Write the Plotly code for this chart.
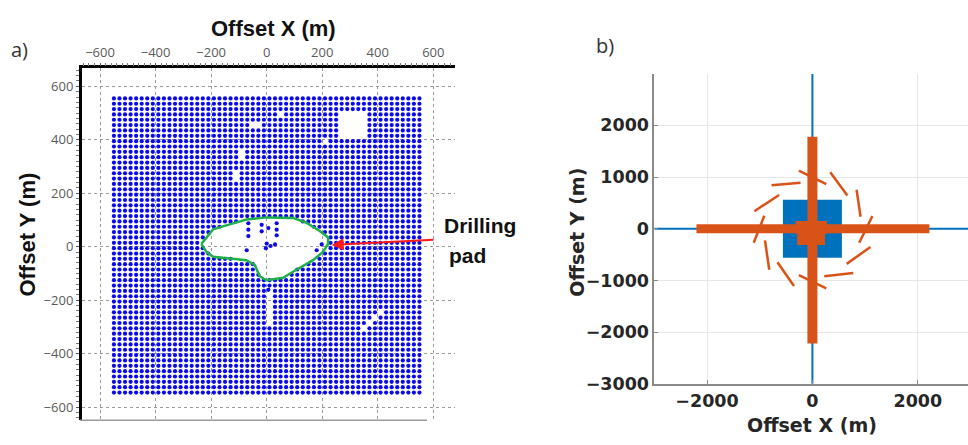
import plotly.graph_objects as go

# ---------------- Panel a data ----------------
# regular receiver grid (m)
GRID_X = [-550, -530, -510, -490, -470, -450, -430, -410, -390, -370, -350, -330, -310, -290,
          -270, -250, -230, -210, -190, -170, -150, -130, -110, -90, -70, -50, -30, -10,
          10, 30, 50, 70, 90, 110, 130, 150, 170, 190, 210, 230, 250, 270, 290, 310, 330,
          350, 370, 390, 410, 430, 450, 470, 490, 510, 530, 550]
GRID_Y = [-545, -525, -505, -485, -465, -445, -425, -405, -385, -365, -345, -325, -305, -285,
          -265, -245, -225, -205, -185, -165, -145, -125, -105, -85, -65, -45, -25, -5,
          15, 35, 55, 75, 95, 115, 135, 155, 175, 195, 215, 235, 255, 275, 295, 315, 335,
          355, 375, 395, 415, 435, 455, 475, 495, 515, 535, 555]

# drilling pad outline (m)
PAD_X = [-235, -193, -133, -73, -1, 95, 143, 191, 221, 221, 203, 167, 107, 59, -1, -25, -43, -73, -193, -217, -235]
PAD_Y = [11, 65, 84, 102, 110, 108, 90, 59, 35, 11, -19, -50, -86, -116, -125, -110, -68, -50, -37, -19, 11]

# empty areas in the grid: [x0, x1, y0, y1]
GAP_BOXES = [
    [265, 365, 415, 505],
    [40, 60, 490, 500],
    [-95, -85, 320, 370],
    [-115, -105, 250, 290],
    [0, 20, -295, -165],
    [25, 35, -500, -490],
    [345, 355, -310, -300],
    [365, 375, -290, -280],
    [385, 395, -270, -260],
    [405, 415, -250, -240],
    [205, 215, 390, 400],
    [-50, -30, 450, 460],
]

# scattered receivers left inside / near the pad
EXTRA_X = [-66, -66, -66, -18, -18, 6, 36, 36, 36, 30, 14, 0, -3, -72, 180, 198, 6]
EXTRA_Y = [88, 64, 40, 82, 58, 70, 88, 64, 43, 9, 3, 12, -5, -13, -13, 9, -161]

# arrow (m): head and tail
ARROW_HEAD = (234, 7)
ARROW_TAIL = (606, 27)

A_XTICKS = [-600, -400, -200, 0, 200, 400, 600]
A_YTICKS = [-600, -400, -200, 0, 200, 400, 600]

# ---------------- Panel b data ----------------
LINE_X_AXIS = [-3000, 3000]
SQUARE_X = [-560, 560, 560, -560, -560]
SQUARE_Y = [560, 560, -560, -560, 560]
CROSS_V_Y = [-2220, 1780]
CROSS_H_X = [-2200, 2220]
CENTER_X = [-320, 275, 275, 240, 240, -290, -290, -320, -320]
CENTER_Y = [150, 150, -100, -100, -315, -315, -100, -100, 150]
# short orange segments around the wells: (x0, y0, x1, y1)
SEGMENTS = [
    (-257, 1125, 263, 862),
    (-775, 843, -225, 892),
    (338, 1094, 663, 641),
    (-1101, 340, -632, 654),
    (838, 755, 913, 233),
    (-913, 252, -1113, -270),
    (1138, 245, 888, -270),
    (-900, -226, -819, -792),
    (1101, -352, 651, -679),
    (-663, -648, -350, -1107),
    (225, -918, 775, -855),
    (-257, -899, 263, -1151),
]
B_XTICKS = [-2000, 0, 2000]
B_YTICKS = [-3000, -2000, -1000, 0, 1000, 2000]

BLUE = "#0072BD"
ORANGE = "#D95319"


def inside_poly(px, py, xs, ys):
    n = len(xs)
    inside = False
    j = n - 1
    for i in range(n):
        if ((ys[i] > py) != (ys[j] > py)) and \
                (px < (xs[j] - xs[i]) * (py - ys[i]) / (ys[j] - ys[i]) + xs[i]):
            inside = not inside
        j = i
    return inside


rx, ry = [], []
for gx in GRID_X:
    for gy in GRID_Y:
        if inside_poly(gx, gy, PAD_X, PAD_Y):
            continue
        if any(b[0] <= gx <= b[1] and b[2] <= gy <= b[3] for b in GAP_BOXES):
            continue
        rx.append(gx)
        ry.append(gy)
rx += EXTRA_X
ry += EXTRA_Y

fig = go.Figure()

fig.add_trace(go.Scatter(x=rx, y=ry, mode="markers", xaxis="x", yaxis="y",
                         marker=dict(size=4.2, color="#0a0aeb", line=dict(width=0)),
                         hoverinfo="skip", showlegend=False))
fig.add_trace(go.Scatter(x=PAD_X, y=PAD_Y, mode="lines", xaxis="x", yaxis="y",
                         line=dict(color="#1fb04a", width=2.5),
                         hoverinfo="skip", showlegend=False))

# panel b
fig.add_trace(go.Scatter(x=SQUARE_X, y=SQUARE_Y, mode="lines", fill="toself",
                         fillcolor=BLUE, line=dict(color=BLUE, width=0),
                         xaxis="x2", yaxis="y2", hoverinfo="skip", showlegend=False))
fig.add_trace(go.Scatter(x=[0, 0, None] + LINE_X_AXIS, y=LINE_X_AXIS + [None, 0, 0],
                         mode="lines", line=dict(color=BLUE, width=2),
                         xaxis="x2", yaxis="y2", hoverinfo="skip", showlegend=False))
fig.add_trace(go.Scatter(x=[0, 0], y=CROSS_V_Y, mode="lines",
                         line=dict(color=ORANGE, width=10),
                         xaxis="x2", yaxis="y2", hoverinfo="skip", showlegend=False))
fig.add_trace(go.Scatter(x=CROSS_H_X, y=[0, 0], mode="lines",
                         line=dict(color=ORANGE, width=9),
                         xaxis="x2", yaxis="y2", hoverinfo="skip", showlegend=False))
fig.add_trace(go.Scatter(x=CENTER_X, y=CENTER_Y, mode="lines", fill="toself",
                         fillcolor=ORANGE, line=dict(color=ORANGE, width=0),
                         xaxis="x2", yaxis="y2", hoverinfo="skip", showlegend=False))
sx, sy = [], []
for x0, y0, x1, y1 in SEGMENTS:
    sx += [x0, x1, None]
    sy += [y0, y1, None]
fig.add_trace(go.Scatter(x=sx, y=sy, mode="lines", line=dict(color=ORANGE, width=2.5),
                         xaxis="x2", yaxis="y2", hoverinfo="skip", showlegend=False))

W, H = 968, 445
def px(x):
    return x / W
def py(y):
    return 1 - y / H

NARROW = "Liberation Sans Narrow, Arial Narrow, Liberation Sans, Arial"
tickA = dict(family="Open Sans, Noto Sans, sans-serif", size=13, color="#5a5a5a")
tickB = dict(family="DejaVu Sans", size=17.5, color="#262626", weight="bold")

fig.update_layout(
    width=W, height=H, margin=dict(l=0, r=0, t=0, b=0),
    paper_bgcolor="white", plot_bgcolor="white", showlegend=False,
    xaxis=dict(domain=[px(81.7), px(455)], range=[-666, 678], anchor="y", side="top",
               tickvals=A_XTICKS, tickfont=tickA, showline=True, linecolor="black",
               linewidth=2.5, ticks="outside", ticklen=3, tickcolor="#555",
               minor=dict(ticks="outside", ticklen=3, dtick=20, tickcolor="#777", showgrid=False),
               showgrid=True, gridcolor="#9a9a9a", griddash="dot", gridwidth=1,
               zeroline=False),
    yaxis=dict(domain=[py(430), py(70)], range=[-649, 667], anchor="x",
               tickvals=A_YTICKS, tickfont=tickA, showline=True, linecolor="black",
               linewidth=2.5, ticks="outside", ticklen=3, tickcolor="#555",
               minor=dict(ticks="outside", ticklen=3, dtick=20, tickcolor="#777", showgrid=False),
               showgrid=True, gridcolor="#9a9a9a", griddash="dot", gridwidth=1,
               zeroline=False),
    xaxis2=dict(domain=[px(654.3), 1.0], range=[-3000, 2952], anchor="y2",
                tickvals=B_XTICKS, tickfont=tickB, showline=True, linecolor="#8a8a8a",
                linewidth=1.5, ticks="inside", ticklen=4, tickcolor="#8a8a8a",
                showgrid=True, gridcolor="#e6e6e6", gridwidth=1, zeroline=False),
    yaxis2=dict(domain=[py(392.7), py(75.6)], range=[-3000, 2995], anchor="x2",
                tickvals=B_YTICKS, tickfont=tickB, showline=True, linecolor="#8a8a8a",
                linewidth=1.5, ticks="inside", ticklen=4, tickcolor="#8a8a8a",
                showgrid=True, gridcolor="#e6e6e6", gridwidth=1, zeroline=False),
)

fig.add_shape(type="line", xref="paper", yref="paper", x0=px(80), x1=px(427),
              y0=py(430), y1=py(430), line=dict(color="#9a9a9a", width=1.5))

ann = [
    dict(text="Offset X (m)", x=px(273), y=py(29), font=dict(family=NARROW, size=22, color="#111", weight="bold")),
    dict(text="Offset Y (m)", x=px(28), y=py(240), textangle=-90,
         font=dict(family=NARROW, size=22, color="#111", weight="bold")),
    dict(text="a)", x=px(19), y=py(51), font=dict(family="Open Sans, sans-serif", size=20, color="#333")),
    dict(text="b)", x=px(605), y=py(47), font=dict(family="Open Sans, sans-serif", size=20, color="#333")),
    dict(text="Offset X (m)", x=px(811.7), y=py(435),
         font=dict(family="DejaVu Sans", size=19, color="#262626", weight="bold")),
    dict(text="Offset Y (m)", x=px(577), y=py(238), textangle=-90,
         font=dict(family="DejaVu Sans", size=19, color="#262626", weight="bold")),
]
for a in ann:
    fig.add_annotation(xref="paper", yref="paper", showarrow=False,
                       xanchor="center", yanchor="middle", **a)

fig.add_annotation(text="Drilling", xref="paper", yref="paper", x=px(442), y=py(231),
                   xanchor="left", yanchor="middle", showarrow=False,
                   font=dict(family=NARROW, size=21, color="#111", weight="bold"))
fig.add_annotation(text="pad", xref="paper", yref="paper", x=px(447), y=py(261),
                   xanchor="left", yanchor="middle", showarrow=False,
                   font=dict(family=NARROW, size=21, color="#111", weight="bold"))
fig.add_annotation(x=ARROW_HEAD[0], y=ARROW_HEAD[1], ax=ARROW_TAIL[0], ay=ARROW_TAIL[1],
                   xref="x", yref="y", axref="x", ayref="y", text="", showarrow=True,
                   arrowhead=2, arrowsize=1.2, arrowwidth=2, arrowcolor="#ff1a1a")

fig.write_html("out.html")
